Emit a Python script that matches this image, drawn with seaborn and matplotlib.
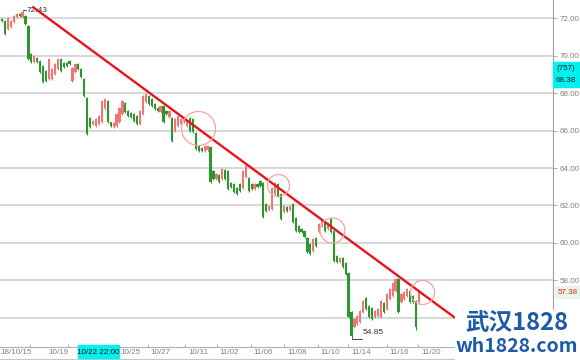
import matplotlib
matplotlib.use("Agg")
import matplotlib.pyplot as plt
import seaborn as sns
import numpy as np
from matplotlib.patches import Rectangle
from matplotlib.lines import Line2D

# ---------------- data ----------------
opens = [71.98, 71.87, 71.45, 71.55, 71.81, 72.06, 72.25, 72.08, 72.13, 71.60,
         70.10, 69.68, 69.90, 69.72, 69.45, 69.18, 68.78, 68.76, 69.04, 69.30,
         69.84, 69.62, 69.60, 69.72, 68.66, 69.14, 69.56, 69.30, 68.76, 67.75,
         66.68, 66.36, 66.25, 66.36, 66.47, 67.21, 67.58, 66.44, 66.20, 66.25,
         66.47, 66.90, 67.48, 67.05, 66.95, 66.90, 66.78, 66.36, 66.90, 67.53,
         67.86, 67.70, 67.43, 67.21, 67.00, 67.32, 67.05, 66.73,
         66.68, 65.98, 66.25, 66.36, 66.47, 66.25, 66.68, 66.62, 65.88, 65.18,
         65.08, 64.91, 64.95, 65.13, 63.85, 63.42, 63.63, 63.42, 63.90, 63.85,
         63.20, 63.15, 62.94, 63.15, 62.94, 63.52, 63.47, 63.15, 62.88, 63.15,
         63.31, 63.20, 62.08, 61.76, 61.81, 62.62, 63.15, 62.62, 61.65, 61.92,
         61.76, 62.08, 61.33, 60.90, 60.75, 60.64, 60.26, 59.95, 59.56, 60.26,
         60.58, 60.90, 61.06, 60.75, 61.28, 60.64, 59.30, 58.98, 59.20, 58.93,
         58.39, 56.30, 55.50, 55.66, 55.77, 56.30, 57.05, 56.63, 56.52, 56.03,
         56.09, 56.03, 56.79, 56.46, 57.00, 57.16, 57.43, 58.07, 56.84, 57.00,
         57.16, 57.43, 57.16, 56.90, 56.84]
highs = [72.03, 71.92, 72.08, 71.92, 72.19, 72.29, 72.29, 72.43, 72.19, 71.65,
         70.15, 70.05, 69.94, 69.78, 69.51, 69.25, 69.89, 69.35, 69.62, 69.89,
         69.89, 69.67, 69.67, 69.78, 69.41, 69.62, 69.62, 69.35, 68.82, 67.80,
         66.73, 66.57, 66.68, 66.84, 67.64, 67.75, 67.64, 66.47, 66.47, 66.95,
         67.27, 67.64, 67.53, 67.11, 67.00, 66.95, 66.84, 67.11, 67.91, 68.02,
         67.91, 67.75, 67.48, 67.27, 67.37, 67.37, 67.11, 67.11,
         66.73, 66.68, 66.84, 66.68, 66.73, 66.57, 66.73, 66.68, 65.93, 65.23,
         65.13, 65.23, 65.25, 65.18, 63.90, 63.74, 63.68, 64.00, 63.95, 63.90,
         63.26, 63.20, 62.99, 63.20, 63.90, 64.17, 63.52, 63.20, 63.20, 63.20,
         63.36, 63.26, 62.13, 62.03, 62.99, 63.26, 63.20, 62.67, 62.03, 61.97,
         62.03, 62.13, 61.38, 60.96, 60.80, 60.69, 60.32, 60.00, 60.26, 60.32,
         61.06, 61.22, 61.12, 61.12, 61.33, 60.69, 59.35, 59.25, 59.25, 58.98,
         58.44, 56.35, 55.98, 56.14, 56.41, 56.95, 57.11, 56.68, 56.57, 56.41,
         56.52, 56.95, 56.84, 57.32, 57.59, 57.91, 58.12, 58.12, 57.32, 57.43,
         57.59, 57.48, 57.21, 56.95, 57.48]
lows = [71.81, 71.12, 71.39, 71.49, 71.76, 72.03, 72.08, 72.03, 71.65, 69.78,
        69.62, 69.62, 69.62, 69.09, 68.55, 68.60, 68.71, 68.71, 68.98, 69.25,
        69.14, 69.35, 69.41, 69.51, 68.60, 69.09, 69.25, 68.82, 67.80, 65.77,
        66.14, 66.30, 66.20, 66.30, 66.41, 67.10, 66.41, 66.20, 66.14, 66.20,
        66.41, 66.84, 66.95, 66.73, 66.68, 66.47, 66.30, 66.30, 66.84, 67.48,
        67.37, 67.27, 67.11, 67.00, 66.95, 66.41, 66.84, 66.68,
        65.40, 65.93, 66.20, 66.30, 66.41, 66.20, 65.93, 65.88, 64.97, 64.86,
        64.86, 64.86, 64.86, 63.20, 63.36, 63.36, 63.20, 63.36, 63.36, 62.83,
        62.94, 62.67, 62.56, 62.72, 62.88, 63.47, 62.72, 62.83, 62.83, 62.94,
        62.99, 61.33, 61.65, 61.70, 61.76, 62.56, 62.45, 61.22, 61.60, 61.65,
        61.70, 61.06, 60.58, 60.53, 60.53, 60.26, 59.46, 59.35, 59.51, 59.78,
        60.53, 60.85, 60.58, 60.69, 60.53, 58.98, 58.93, 58.93, 58.66, 58.28,
        55.98, 54.85, 55.45, 55.61, 55.72, 56.25, 56.41, 55.98, 55.88, 55.98,
        56.03, 55.98, 56.25, 56.41, 56.95, 57.11, 57.37, 56.25, 56.79, 56.95,
        57.11, 56.79, 56.79, 55.34, 56.79]
closes = [71.86, 71.18, 72.02, 71.86, 72.13, 72.25, 72.12, 72.35, 71.70, 69.84,
          69.67, 69.98, 69.67, 69.14, 68.60, 68.66, 69.82, 69.30, 69.56, 69.84,
          69.20, 69.40, 69.45, 69.56, 69.35, 69.56, 69.30, 68.87, 67.86, 65.83,
          66.20, 66.52, 66.62, 66.78, 67.58, 67.70, 66.47, 66.25, 66.41, 66.90,
          67.21, 67.58, 67.00, 66.78, 66.73, 66.52, 66.36, 67.05, 67.86, 67.96,
          67.43, 67.32, 67.16, 67.05, 67.32, 66.47, 66.90, 67.05,
          65.45, 66.62, 66.78, 66.62, 66.68, 66.52, 65.98, 65.93, 65.02, 64.91,
          64.91, 65.18, 65.20, 63.26, 63.42, 63.70, 63.26, 63.95, 63.42, 62.88,
          62.99, 62.72, 62.62, 62.77, 63.85, 64.12, 62.77, 62.88, 63.15, 62.99,
          63.04, 61.38, 61.70, 61.97, 62.94, 63.20, 62.51, 61.28, 61.97, 61.70,
          61.97, 61.12, 60.64, 60.58, 60.58, 60.32, 59.51, 59.40, 60.21, 59.84,
          61.01, 61.17, 60.64, 61.06, 60.58, 59.04, 58.98, 59.20, 58.71, 58.34,
          56.03, 55.02, 55.93, 56.09, 56.36, 56.90, 56.46, 56.03, 55.93, 56.36,
          56.46, 56.90, 56.30, 57.27, 57.53, 57.85, 58.07, 56.30, 57.27, 57.37,
          57.53, 56.84, 56.84, 55.50, 57.38]

trend_idx = [10.56, 156.6]
trend_price = [72.61, 55.72]
circle_idx = [66.7, 94.0, 112.4, 143.0]
circle_price = [66.14, 63.10, 60.69, 57.37]

ytick_values = [56, 58, 60, 62, 64, 66, 68, 70, 72]
xtick_labels = ["18/10/15", "10/19", "10/25", "10/27", "10/31", "11/02",
                "11/06", "11/08", "11/10", "11/14", "11/16", "11/20"]
high_value = 72.43
low_value = 54.85
last_price = 57.38
cursor_price = 68.38
cursor_count = "(757)"
cursor_time = "10/22 22:00"

# ---------------- layout / style ----------------
W, H = 580, 360
STEP = 2.937          # px per candle
X0 = 2.0              # px of first candle

def px2idx(px):
    return (px - X0) / STEP

label_px = [0, 48, 120, 150, 188, 219, 253, 287, 320, 351, 389, 421]
tick_px = [30, 68, 148, 185, 217, 251, 284, 318, 348, 387, 418]
circle_diam_px = [34, 22, 25, 24]

sns.set_theme(style="white")
plt.rcParams['font.family'] = ['Liberation Sans', 'DejaVu Sans']

fig = plt.figure(figsize=(W / 100, H / 100), dpi=100)
fig.patch.set_facecolor('white')
ax = fig.add_axes([0, 13 / H, 553 / W, 347 / H])
ax.set_facecolor('white')

n = len(closes)
idx = np.arange(n)
o = np.array(opens); c = np.array(closes)
hi = np.array(highs); lo = np.array(lows)
up = c >= o
RED = '#f27474'
GREEN = '#2e962e'
cols = np.where(up, RED, GREEN)

ax.set_xlim(px2idx(0), px2idx(553))
ax.set_ylim(54.43, 72.989)

# gridlines
for v in ytick_values:
    ax.axhline(v, color='#d8d8d8', lw=1.4, zorder=0)

ax.vlines(idx, lo, hi, colors=cols, lw=0.8, zorder=2)
body_h = np.where(np.abs(c - o) < 0.03, 0.03, np.abs(c - o))
ax.bar(idx, body_h, bottom=np.minimum(o, c), width=0.75, color=cols,
       linewidth=0, zorder=3)

# trend line
sns.lineplot(x=trend_idx, y=trend_price, color='#e8141b', lw=1.7, ax=ax,
             zorder=4, legend=False)

# circles
for ci, cp, d in zip(circle_idx, circle_price, circle_diam_px):
    ax.plot([ci], [cp], 'o', ms=d * 0.72, mfc='none', mec='#f4a3a3', mew=0.9,
            zorder=5)

# high / low labels
hi_i = int(np.argmax(hi))
lo_i = int(np.argmin(lo))
ax.plot([hi_i, px2idx(26)], [high_value, high_value], color='#444', lw=0.7, zorder=4)
ax.text(px2idx(27), high_value, f"{high_value:.2f}", fontsize=6, color='#333',
        va='center', ha='left', zorder=3)
ax.plot([lo_i, px2idx(362)], [low_value, low_value], color='#444', lw=0.7, zorder=4)
ax.text(px2idx(363), 55.22, f"{low_value:.2f}", fontsize=6, color='#333',
        va='center', ha='left', zorder=3)

# axes / spines
for s in ['top', 'left']:
    ax.spines[s].set_visible(False)
ax.spines['right'].set_color('#a0a0a0')
ax.spines['right'].set_linewidth(0.8)
ax.spines['bottom'].set_color('#b0b0b0')
ax.spines['bottom'].set_linewidth(0.8)
ax.yaxis.tick_right()
ax.set_yticks(ytick_values)
# lowest label sits under the watermark in the reference
ax.set_yticklabels([f"{v:.2f}" if v > 56 else "" for v in ytick_values])
ax.tick_params(axis='y', which='both', right=True, length=3, width=0.6,
               color='#a0a0a0', labelsize=5.8, labelcolor='#808080', pad=2)
ax.set_xticks([px2idx(p) for p in tick_px])
ax.set_xticklabels([])
ax.tick_params(axis='x', bottom=True, length=2.5, width=0.6, color='#a0a0a0',
               direction='in')
ax.grid(False)

# x labels
for lab, p in zip(xtick_labels, label_px):
    fig.text(p / W, 1 - 352.5 / H, lab, fontsize=5.8, color='#808080',
             ha='left', va='center')

# bottom strip line
fig.add_artist(Line2D([0, 455 / W], [1 - 358.5 / H] * 2, color='#c8c8c8', lw=0.8))

# cursor time box
fig.add_artist(Rectangle((78 / W, 1 - 358 / H), 41 / W, 13 / H, color='#00f0f0',
                         transform=fig.transFigure, zorder=5))
fig.text(98.5 / W, 1 - 352 / H, cursor_time, fontsize=5.8, color='#111',
         ha='center', va='center', zorder=6)

# cursor price box (right)
fig.add_artist(Rectangle((553 / W, 1 - 87 / H), 27 / W, 25 / H, color='#00f0f0',
                         transform=fig.transFigure, zorder=5))
fig.text(566 / W, 1 - 68.5 / H, cursor_count, fontsize=5.8, color='#222',
         ha='center', va='center', zorder=6)
fig.text(566 / W, 1 - 80.5 / H, f"{cursor_price:.2f}", fontsize=5.8, color='#222',
         ha='center', va='center', zorder=6)

# last price box
fig.add_artist(Rectangle((555 / W, 1 - 298 / H), 25 / W, 12 / H, color='#e9f5e9',
                         transform=fig.transFigure, zorder=5))
fig.text(558 / W, 1 - 292 / H, f"{last_price:.2f}", fontsize=5.8, color='#e02020',
         ha='left', va='center', zorder=6)

# watermark
fig.add_artist(Rectangle((455 / W, 0), 125 / W, 50 / H, color='white',
                         transform=fig.transFigure, zorder=7))
fig.text(517 / W, 1 - 323 / H, "武汉1828", fontsize=17, fontweight='bold',
         color='#1d5ba6', ha='center', va='center', zorder=8,
         family=['Noto Sans CJK SC', 'DejaVu Sans'])
fig.text(517 / W, 1 - 346.5 / H, "wh1828.com", fontsize=14, fontweight='bold',
         color='#1d5ba6', ha='center', va='center', zorder=8,
         family=['Noto Sans CJK SC', 'DejaVu Sans'])

fig.savefig("out.png", dpi=100)
